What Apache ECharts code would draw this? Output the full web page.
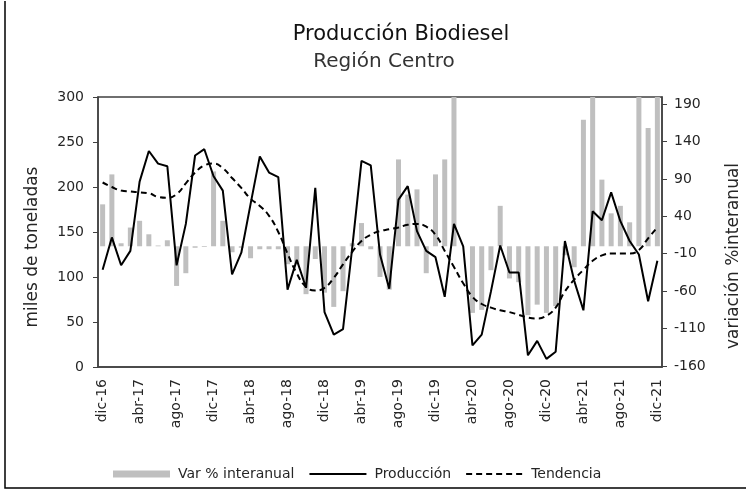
<!DOCTYPE html>
<html>
<head>
<meta charset="utf-8">
<script src="https://cdn.jsdelivr.net/npm/echarts@6/dist/echarts.min.js"></script>
<style>
  html, body { margin: 0; padding: 0; background: #fff; }
  #chart { width: 747px; height: 492px; }
</style>
</head>
<body>
<div id="chart"></div>
<script>
// meses dic-16 .. dic-21
const months = [
  'dic-16',
  'ene-17','feb-17','mar-17','abr-17','may-17','jun-17','jul-17','ago-17','sep-17','oct-17','nov-17','dic-17',
  'ene-18','feb-18','mar-18','abr-18','may-18','jun-18','jul-18','ago-18','sep-18','oct-18','nov-18','dic-18',
  'ene-19','feb-19','mar-19','abr-19','may-19','jun-19','jul-19','ago-19','sep-19','oct-19','nov-19','dic-19',
  'ene-20','feb-20','mar-20','abr-20','may-20','jun-20','jul-20','ago-20','sep-20','oct-20','nov-20','dic-20',
  'ene-21','feb-21','mar-21','abr-21','may-21','jun-21','jul-21','ago-21','sep-21','oct-21','nov-21','dic-21'
];

// miles de toneladas
const produccion = [
  108,
  144, 113, 129, 206, 240, 226, 223, 113, 159, 235, 242, 212,
  196, 103, 127, 181, 234, 216, 211,  86, 119,  88, 199,  61,
   36,  42, 133, 229, 224, 125,  87, 186, 201, 151, 129, 122,
   78, 159, 134,  24,  36,  84, 135, 105, 105,  13,  29,   9,
   17, 140,  96,  63, 173, 163, 194, 162, 140, 125,  73, 118
];

const tendencia = [
  205,
  200, 196, 195, 194, 193, 189, 188, 192, 204, 216, 224, 226,
  221, 210, 199, 187, 179, 168, 150, 126, 104,  89,  85,  88,
   99, 114, 128, 140, 147, 151, 153, 155, 158, 159, 156, 147,
  129, 111,  93,  78,  70,  66,  63,  61,  58,  55,  54,  57,
   66,  84,  97, 108, 118, 124, 126, 126, 126, 130, 143, 155
];

// var % interanual (las barras que salen del eje quedan recortadas)
const varInteranual = [
   56,
   96,   4,  25,  34,  16,   1,   8, -53, -36,  -2,  -1, 100,
   34,  -8,  -2, -16,  -4,  -4,  -4, -24, -24, -64, -17, -62,
  -81, -60,   4,  31,  -4, -41, -58, 116,  69,  76, -36,  96,
  116, 278,   0, -89, -85, -32,  54, -43, -48, -92, -78, -89,
  -80, -12, -28, 169, 380,  89,  44,  54,  32, 860, 158, 1200
];

const rightTicks = [-160, -110, -60, -10, 40, 90, 140, 190];

const font = 'DejaVu Sans';
const txt = '#262626';
const axisCol = '#404040';

const chart = echarts.init(document.getElementById('chart'));
chart.setOption({
  animation: false,
  textStyle: { fontFamily: font, color: txt },
  grid: {
    left: 98, right: 85, top: 97, bottom: 125,
    show: true, borderColor: axisCol, borderWidth: 1.5
  },
  graphic: [
    // marco exterior
    { type: 'polyline', shape: { points: [[5, 1], [5, 488], [746, 488]] },
      style: { fill: 'none', stroke: '#000', lineWidth: 1.5 } },
    { type: 'text', x: 401, y: 35,
      style: { text: 'Producción Biodiesel', font: '21px "DejaVu Sans"', fill: '#111', textAlign: 'center', textVerticalAlign: 'middle' } },
    { type: 'text', x: 384, y: 62,
      style: { text: 'Región Centro', font: '20px "DejaVu Sans"', fill: '#333', textAlign: 'center', textVerticalAlign: 'middle' } },
    { type: 'text', x: 33, y: 247, rotation: Math.PI / 2,
      style: { text: 'miles de toneladas', font: '17px "DejaVu Sans"', fill: txt, textAlign: 'center', textVerticalAlign: 'middle' } },
    { type: 'text', x: 734, y: 256, rotation: Math.PI / 2,
      style: { text: 'variación %interanual', font: '17px "DejaVu Sans"', fill: txt, textAlign: 'center', textVerticalAlign: 'middle' } }
  ],
  legend: {
    bottom: 6,
    left: 108,
    itemWidth: 57,
    itemHeight: 7,
    itemGap: 14,
    textStyle: { fontFamily: font, fontSize: 14, color: txt, padding: [0, 0, 0, 3] },
    data: [
      { name: 'Var % interanual', icon: 'rect' },
      { name: 'Producción', itemStyle: { opacity: 0 } },
      { name: 'Tendencia', itemStyle: { opacity: 0 } }
    ]
  },
  xAxis: {
    type: 'category',
    data: months,
    boundaryGap: true,
    axisLine: { lineStyle: { color: axisCol, width: 1.5 } },
    axisTick: { interval: 3, length: 5, lineStyle: { color: axisCol } },
    axisLabel: { interval: 3, rotate: 90, margin: 12, fontSize: 14, color: txt, fontFamily: font },
    splitLine: { show: false }
  },
  yAxis: [
    {
      type: 'value',
      min: 0, max: 300, interval: 50,
      axisLine: { show: true, lineStyle: { color: axisCol, width: 1.5 } },
      axisTick: { show: true, length: 5, lineStyle: { color: axisCol } },
      axisLabel: { margin: 14, fontSize: 14, color: txt, fontFamily: font },
      splitLine: { show: false }
    },
    {
      type: 'value',
      min: -161.3, max: 199.4,
      axisLine: { show: true, lineStyle: { color: axisCol, width: 1.5 } },
      axisTick: { show: true, length: 5, customValues: rightTicks, lineStyle: { color: axisCol } },
      axisLabel: { margin: 12, fontSize: 14, color: txt, fontFamily: font, customValues: rightTicks },
      splitLine: { show: false }
    }
  ],
  series: [
    {
      name: 'Var % interanual',
      type: 'bar',
      yAxisIndex: 1,
      barWidth: 5,
      clip: true,
      itemStyle: { color: '#bfbfbf' },
      data: varInteranual
    },
    {
      name: 'Producción',
      type: 'line',
      symbol: 'none',
      lineStyle: { color: '#000', width: 2 },
      itemStyle: { color: '#000' },
      data: produccion
    },
    {
      name: 'Tendencia',
      type: 'line',
      symbol: 'none',
      smooth: true,
      lineStyle: { color: '#000', width: 2, type: [6, 4] },
      itemStyle: { color: '#000' },
      data: tendencia
    }
  ]
});
</script>
</body>
</html>
